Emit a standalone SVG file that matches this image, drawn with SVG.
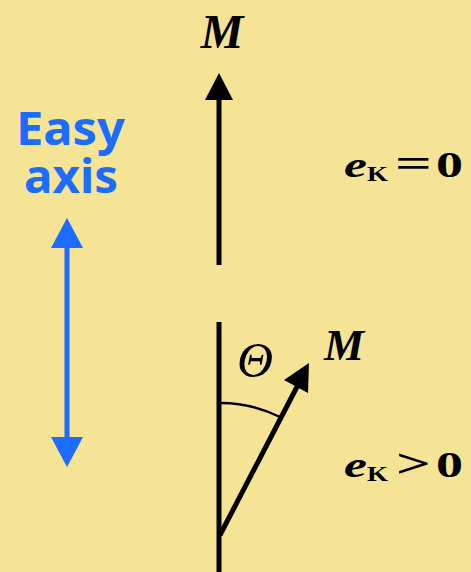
<svg xmlns="http://www.w3.org/2000/svg" width="471" height="572" viewBox="0 0 471 572">
<style>
.serif{font-family:"Liberation Serif","Times New Roman",serif;fill:#000}
.bi{font-weight:bold;font-style:italic}
.b{font-weight:bold}
.blue{font-family:"Comic Sans MS","Noto Sans",sans-serif;font-weight:bold;font-size:47px;fill:#1c6cff}
.ln{stroke:#000;stroke-width:5;fill:none}
</style>
<rect width="471" height="572" fill="#f5e396"/>
<g id="easy-axis">
<text class="blue" x="16" y="145" textLength="109" lengthAdjust="spacingAndGlyphs">Easy</text>
<text class="blue" x="24" y="193" textLength="94" lengthAdjust="spacingAndGlyphs">axis</text>
<line x1="67" y1="244" x2="67" y2="441" stroke="#1c6cff" stroke-width="5"/>
<path d="M67,218 L83,248 L51,248 Z" fill="#1c6cff"/>
<path d="M67,467 L83,437 L51,437 Z" fill="#1c6cff"/>
</g>
<g id="upper-M">
<text class="serif bi" x="222" y="48" font-size="48" text-anchor="middle">M</text>
<line class="ln" x1="219" y1="265" x2="219" y2="98"/>
<path d="M219,73 L233,100 L205,100 Z" fill="#000"/>
<text class="serif bi" x="344" y="177" font-size="36" textLength="23" lengthAdjust="spacingAndGlyphs">e</text>
<text class="serif b" x="367" y="181" font-size="20" textLength="21" lengthAdjust="spacingAndGlyphs">K</text>
<text class="serif b" x="395" y="177" font-size="40" textLength="37" lengthAdjust="spacingAndGlyphs">=</text>
<text class="serif b" x="436" y="177" font-size="36" textLength="27" lengthAdjust="spacingAndGlyphs">0</text>
</g>
<g id="lower-M">
<line class="ln" x1="219" y1="322" x2="219" y2="572"/>
<path d="M220,403 A132,132 0 0 1 280,417" stroke="#000" stroke-width="2.5" fill="none"/>
<line class="ln" x1="220" y1="535" x2="300" y2="381"/>
<path d="M309,363 L308,393 L284,380 Z" fill="#000"/>
<text class="serif" x="237" y="377" font-size="50" font-style="italic">Θ</text>
<text class="serif bi" x="324" y="360" font-size="45">M</text>
<text class="serif bi" x="344" y="477" font-size="36" textLength="23" lengthAdjust="spacingAndGlyphs">e</text>
<text class="serif b" x="367" y="481" font-size="20" textLength="21" lengthAdjust="spacingAndGlyphs">K</text>
<text class="serif b" x="396" y="477" font-size="40" textLength="35" lengthAdjust="spacingAndGlyphs">&gt;</text>
<text class="serif b" x="436" y="477" font-size="36" textLength="27" lengthAdjust="spacingAndGlyphs">0</text>
</g>
</svg>
